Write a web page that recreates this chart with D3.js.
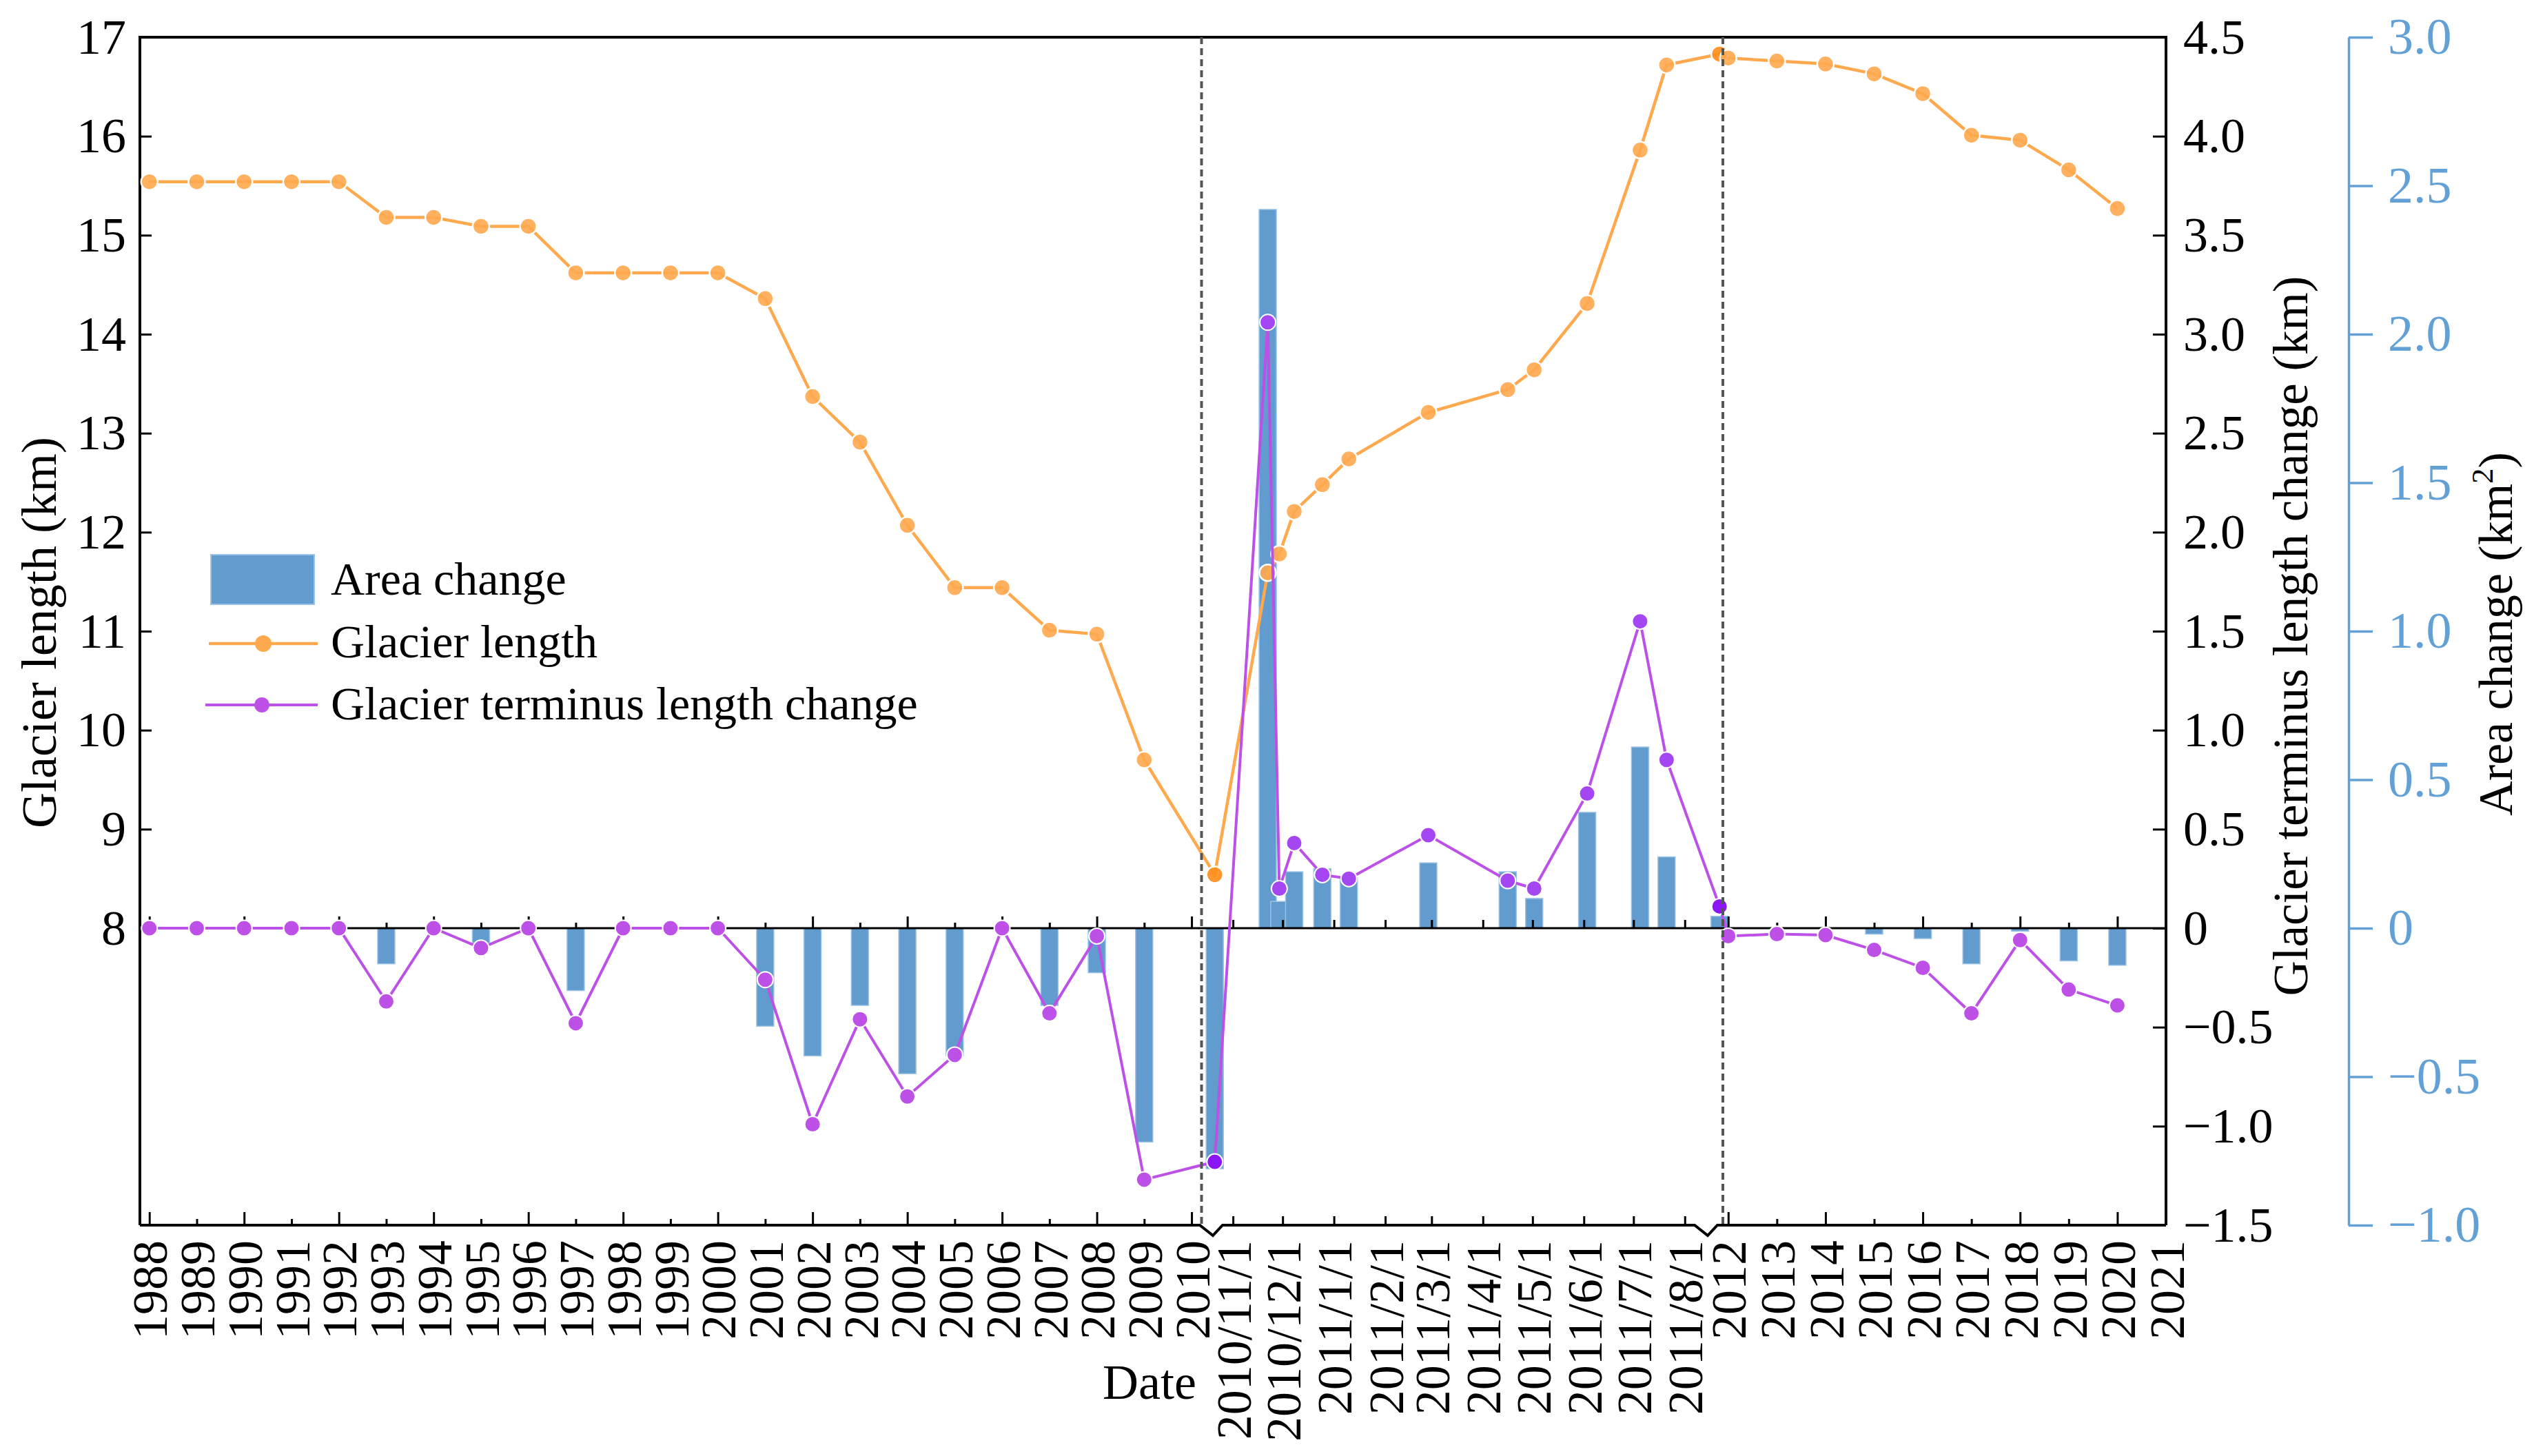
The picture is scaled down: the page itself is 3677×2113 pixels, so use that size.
<!DOCTYPE html>
<html>
<head>
<meta charset="utf-8">
<script src="https://cdn.jsdelivr.net/npm/d3@7"></script>
<style>
  body { margin: 0; background: #fff; }
  text { font-family: "Liberation Serif", "Times New Roman", serif; }
</style>
</head>
<body>
<script>
// yearly part before the break
const years1 = [1988, 1989, 1990, 1991, 1992, 1993, 1994, 1995, 1996, 1997, 1998,
  1999, 2000, 2001, 2002, 2003, 2004, 2005, 2006, 2007, 2008, 2009];
const length1 = [15.54, 15.54, 15.54, 15.54, 15.54, 15.18, 15.18, 15.09, 15.09, 14.62, 14.62,
  14.62, 14.62, 14.36, 13.37, 12.91, 12.07, 11.44, 11.44, 11.01, 10.97, 9.70];
const term1 = [0, 0, 0, 0, 0, -0.37, 0, -0.10, 0, -0.48, 0,
  0, 0, -0.26, -0.99, -0.46, -0.85, -0.64, 0, -0.43, -0.04, -1.27];
const area1 = [0, 0, 0, 0, 0, -0.12, 0, -0.05, 0, -0.21, 0,
  0, 0, -0.33, -0.43, -0.26, -0.49, -0.43, 0, -0.26, -0.15, -0.72];

// surge period, by date
const dates2 = ["2010-10-21", "2010-11-22", "2010-11-29", "2010-12-08", "2010-12-25", "2011-01-10",
  "2011-02-27", "2011-04-16", "2011-05-02", "2011-06-03", "2011-07-05", "2011-07-21", "2011-08-22"];
const length2 = [8.54, 11.59, 11.78, 12.21, 12.48, 12.74, 13.21, 13.44, 13.64, 14.31, 15.86, 16.72, 16.83];
const term2 = [-1.18, 3.06, 0.20, 0.43, 0.27, 0.25, 0.47, 0.24, 0.20, 0.68, 1.55, 0.85, 0.11];
const area2 = [-0.81, 2.42, 0.09, 0.19, 0.20, 0.17, 0.22, 0.19, 0.10, 0.39, 0.61, 0.24, 0.04];

// yearly part after the break
const years3 = [2012, 2013, 2014, 2015, 2016, 2017, 2018, 2019, 2020];
const length3 = [16.79, 16.76, 16.73, 16.63, 16.43, 16.01, 15.96, 15.66, 15.27];
const term3 = [-0.04, -0.03, -0.035, -0.11, -0.20, -0.43, -0.06, -0.31, -0.39];
const area3 = [0, 0, 0, -0.02, -0.035, -0.12, -0.01, -0.11, -0.125];

// tick labels
const tickYears1 = [1988, 1989, 1990, 1991, 1992, 1993, 1994, 1995, 1996, 1997, 1998, 1999,
  2000, 2001, 2002, 2003, 2004, 2005, 2006, 2007, 2008, 2009, 2010];
const tickMonths2 = ["2010/11/1", "2010/12/1", "2011/1/1", "2011/2/1", "2011/3/1",
  "2011/4/1", "2011/5/1", "2011/6/1", "2011/7/1", "2011/8/1"];
const tickYears3 = [2012, 2013, 2014, 2015, 2016, 2017, 2018, 2019, 2020, 2021];
const lengthTicks = [8, 9, 10, 11, 12, 13, 14, 15, 16, 17];
const termTicks = [-1.5, -1.0, -0.5, 0, 0.5, 1.0, 1.5, 2.0, 2.5, 3.0, 3.5, 4.0, 4.5];
const areaTicks = [-1.0, -0.5, 0, 0.5, 1.0, 1.5, 2.0, 2.5, 3.0];

const W = 3677, H = 2113;
const m = { l: 203, r: 3143, t: 54, b: 1778 };
const break1 = 1743.5, break2 = 2500;
const font = 72;
const serif = '"Liberation Serif", "Times New Roman", serif';
const orange = "#ffa94f", purple = "#bd50e6", barBlue = "#629bcd", axisBlue = "#62a0d6";

const svg = d3.select("body").append("svg")
  .attr("width", W)
  .attr("height", H)
  .style("font-family", serif);

const parse = d3.timeParse("%Y-%m-%d");
const parseTick = d3.timeParse("%Y/%m/%d");

let x1 = d3.scaleLinear().domain([1987.8, 2010.21]).range([m.l, break1]);
let x2 = d3.scaleTime().domain([parse("2010-10-13"), parse("2011-08-24")]).range([break1, break2]);
let x3 = d3.scaleLinear().domain([2011.89, 2021]).range([break2, m.r]);

let yLen = d3.scaleLinear().domain([5, 17]).range([m.b, m.t]);
let yTerm = d3.scaleLinear().domain([-1.5, 4.5]).range([m.b, m.t]);
let yArea = d3.scaleLinear().domain([-1, 3]).range([m.b, m.t]);

let pts = [];
years1.forEach((y, i) => pts.push({ x: x1(y), len: length1[i], term: term1[i], area: area1[i], seg: 1 }));
dates2.forEach((d, i) => pts.push({ x: x2(parse(d)), len: length2[i], term: term2[i], area: area2[i], seg: 2, edge: i === 0 || i === dates2.length - 1 }));
years3.forEach((y, i) => pts.push({ x: x3(y), len: length3[i], term: term3[i], area: area3[i], seg: 3 }));

// bars
let barW = 25;
svg.append("g").selectAll("rect.bar")
  .data(pts.filter(d => d.area !== 0))
  .enter()
  .append("rect")
  .classed("bar", true)
  .attr("x", d => d.x - barW / 2)
  .attr("width", barW)
  .attr("y", d => Math.min(yArea(d.area), yArea(0)))
  .attr("height", d => Math.abs(yArea(d.area) - yArea(0)))
  .attr("fill", barBlue)
  .attr("stroke", "#9cc3e6")
  .attr("stroke-width", 1.5);

// x tick rows (bottom axis and zero line)
let fmtYear = d => String(d);
function xTicks(scale, values, yPos, sizeFn, labelFn) {
  let g = svg.append("g")
    .attr("transform", `translate(0,${yPos})`)
    .call(d3.axisBottom(scale).tickValues(values).tickSizeOuter(0)
      .tickFormat(labelFn ? labelFn : () => ""));
  g.select(".domain").remove();
  g.attr("font-size", font).attr("font-family", serif).attr("color", "#000");
  g.selectAll(".tick line")
    .attr("y2", (d, i) => -sizeFn(d, i))
    .attr("stroke-width", 3);
  if (labelFn) {
    g.selectAll(".tick text")
      .attr("transform", "rotate(-90)")
      .attr("text-anchor", "end")
      .attr("x", -22)
      .attr("y", 0)
      .attr("dy", "0.35em");
  } else {
    g.selectAll(".tick text").remove();
  }
}

let monthDates = tickMonths2.map(parseTick);
let majorMinor = (big, small) => (d, i) => (d % 2 === 0 ? big : small);

xTicks(x1, tickYears1, m.b, majorMinor(19, 9), fmtYear);
xTicks(x2, monthDates, m.b, () => 13, (d, i) => tickMonths2[i]);
xTicks(x3, tickYears3, m.b, majorMinor(19, 9), fmtYear);

let zeroY = yLen(8);
xTicks(x1, tickYears1, zeroY, majorMinor(17, 8), null);
xTicks(x2, monthDates, zeroY, () => 12, null);
xTicks(x3, tickYears3.filter(y => y < 2021), zeroY, majorMinor(17, 8), null);

svg.append("line")
  .attr("x1", m.l).attr("x2", m.r)
  .attr("y1", zeroY).attr("y2", zeroY)
  .attr("stroke", "#000")
  .attr("stroke-width", 3);

// y axes
let fmtHalf = v => (v === 0 ? "0" : d3.format(".1f")(v));

let gL = svg.append("g")
  .attr("transform", `translate(${m.l},0)`)
  .call(d3.axisLeft(yLen).tickValues(lengthTicks).tickSizeInner(-17).tickSizeOuter(0)
    .tickPadding(20).tickFormat(d3.format("d")));
gL.select(".domain").remove();
gL.attr("font-size", font).attr("font-family", serif).attr("color", "#000");
gL.selectAll(".tick line").attr("stroke-width", 3);

let gT = svg.append("g")
  .attr("transform", `translate(${m.r},0)`)
  .call(d3.axisRight(yTerm).tickValues(termTicks).tickSizeInner(-19).tickSizeOuter(0)
    .tickPadding(25).tickFormat(fmtHalf));
gT.select(".domain").remove();
gT.attr("font-size", font).attr("font-family", serif).attr("color", "#000");
gT.selectAll(".tick line").attr("stroke-width", 3);

let gA = svg.append("g")
  .attr("transform", "translate(3408,0)")
  .call(d3.axisRight(yArea).tickValues(areaTicks).tickSizeInner(35).tickSizeOuter(0)
    .tickPadding(22).tickFormat(fmtHalf));
gA.attr("font-size", 74).attr("font-family", serif).attr("color", axisBlue);
gA.select(".domain").attr("stroke-width", 3.5);
gA.selectAll(".tick line").attr("stroke-width", 3.5);

// frame with the two break marks on the bottom axis
svg.append("path")
  .attr("d", `M${m.l},${m.b} V${m.t} H${m.r} V${m.b}`)
  .attr("fill", "none")
  .attr("stroke", "#000")
  .attr("stroke-width", 4);
svg.append("path")
  .attr("d", `M${m.l},${m.b} H1741 L1760,1793 L1774,${m.b} H2459 L2478,1793 L2492,${m.b} H${m.r}`)
  .attr("fill", "none")
  .attr("stroke", "#000")
  .attr("stroke-width", 4)
  .attr("stroke-linejoin", "miter");

// glacier length
let lineLen = d3.line().x(d => d.x).y(d => yLen(d.len));
svg.append("path")
  .datum(pts)
  .attr("d", lineLen)
  .attr("fill", "none")
  .attr("stroke", orange)
  .attr("stroke-width", 4.5);
svg.append("g").selectAll("circle")
  .data(pts)
  .enter()
  .append("circle")
  .attr("cx", d => d.x)
  .attr("cy", d => yLen(d.len))
  .attr("r", 12)
  .attr("fill", d => (d.edge ? "#ff8c1a" : orange))
  .attr("fill-opacity", 0.9)
  .attr("stroke", "#fff")
  .attr("stroke-width", 2.5);

// terminus length change
let lineTerm = d3.line().x(d => d.x).y(d => yTerm(d.term));
svg.append("path")
  .datum(pts)
  .attr("d", lineTerm)
  .attr("fill", "none")
  .attr("stroke", purple)
  .attr("stroke-width", 4);
svg.append("g").selectAll("circle")
  .data(pts)
  .enter()
  .append("circle")
  .attr("cx", d => d.x)
  .attr("cy", d => yTerm(d.term))
  .attr("r", 11.5)
  .attr("fill", d => (d.edge ? "#8a16f5" : d.seg === 2 ? "#a447f2" : purple))
  .attr("stroke", "#fff")
  .attr("stroke-width", 2);

// break lines
[break1, break2].forEach(bx => {
  svg.append("line")
    .attr("x1", bx).attr("x2", bx)
    .attr("y1", m.t).attr("y2", m.b)
    .attr("stroke", "#555")
    .attr("stroke-width", 4)
    .attr("stroke-dasharray", "10 6");
});

// titles
svg.append("text")
  .attr("transform", "translate(81,918) rotate(-90)")
  .attr("text-anchor", "middle")
  .attr("font-size", font)
  .text("Glacier length (km)");
svg.append("text")
  .attr("x", 1668).attr("y", 2030)
  .attr("text-anchor", "middle")
  .attr("font-size", font)
  .text("Date");
svg.append("text")
  .attr("transform", "translate(3348,923) rotate(-90)")
  .attr("text-anchor", "middle")
  .attr("font-size", 71)
  .text("Glacier terminus length change (km)");
let areaTitle = svg.append("text")
  .attr("transform", "translate(3645,920) rotate(-90)")
  .attr("text-anchor", "middle")
  .attr("font-size", 70)
  .text("Area change (km");
areaTitle.append("tspan").attr("dy", -28).attr("font-size", 45).text("2");
areaTitle.append("tspan").attr("dy", 28).text(")");

// legend
let lg = svg.append("g");
lg.append("rect")
  .attr("x", 306).attr("y", 805)
  .attr("width", 150).attr("height", 72)
  .attr("fill", barBlue)
  .attr("stroke", "#9cc3e6")
  .attr("stroke-width", 2);
lg.append("line").attr("x1", 303).attr("x2", 461).attr("y1", 934).attr("y2", 934)
  .attr("stroke", orange).attr("stroke-width", 4.5);
lg.append("circle").attr("cx", 382).attr("cy", 934).attr("r", 12).attr("fill", orange);
lg.append("line").attr("x1", 298).attr("x2", 461).attr("y1", 1023).attr("y2", 1023)
  .attr("stroke", purple).attr("stroke-width", 4);
lg.append("circle").attr("cx", 380).attr("cy", 1023).attr("r", 11).attr("fill", purple);
[["Area change", 863], ["Glacier length", 954], ["Glacier terminus length change", 1044]].forEach(t => {
  lg.append("text")
    .attr("x", 480).attr("y", t[1])
    .attr("font-size", 68)
    .text(t[0]);
});
</script>
</body>
</html>
